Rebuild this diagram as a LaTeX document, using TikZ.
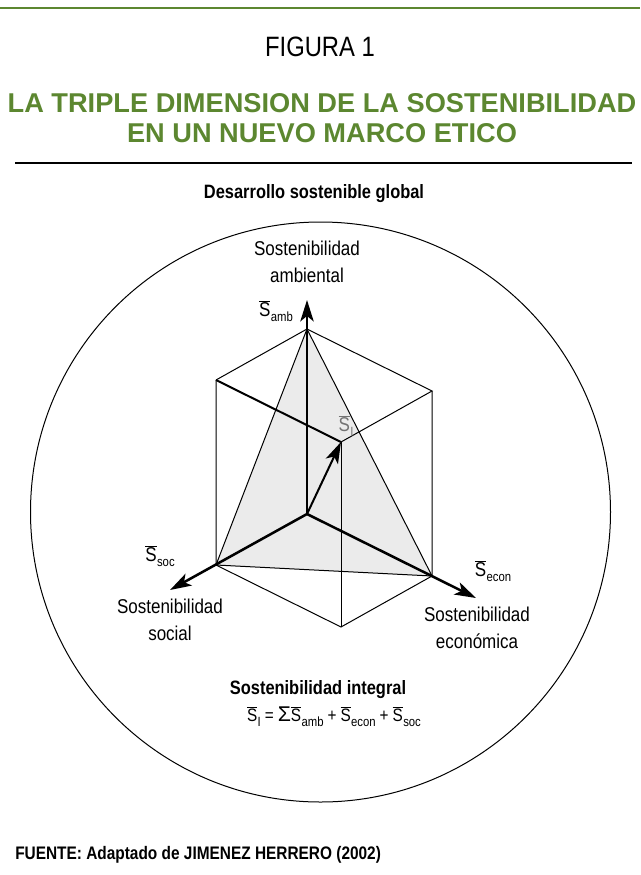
\documentclass[tikz,border=0pt]{standalone}
\usepackage{fontspec}
\setmainfont{Liberation Sans}[FakeStretch=0.85]
\newfontfamily\widefont{Liberation Sans}
\usetikzlibrary{arrows.meta, positioning}
\definecolor{titlegreen}{RGB}{92,135,48}
\tikzset{
	axis/.style={
		line width=1.9pt,
		-{Stealth[length=16pt, width=10pt, inset=4pt]}
	},
	edge/.style={line width=0.75pt},
	heavyedge/.style={line width=1.5pt},
	tag/.style={
		align=center,
		inner sep=0pt,
		font=\fontsize{15}{20}\selectfont
	},
	boldtag/.style={
		inner sep=0pt,
		font=\bfseries\fontsize{14.5}{18}\selectfont
	},
	vectag/.style={
		inner sep=0pt,
		font=\fontsize{15}{18}\selectfont
	}
}
\newcommand{\vecS}[1]{$\overline{\mbox{S}}$\kern0.3pt\raisebox{-0.5ex}{\fontsize{10}{10}\selectfont #1}}

\begin{document}
\begin{tikzpicture}[x=0.75pt, y=-0.75pt]
	\useasboundingbox (0,0) rectangle (640,875);
	
	% header
	\coordinate (gl) at (0,8);
	\coordinate (gr) at (640,8);
	\draw [titlegreen, line width=1.5pt] (gl) -- (gr);
	\node (figura) [inner sep=0pt, font=\fontsize{21}{24}\selectfont] at (320,47) {FIGURA 1};
	\node (titulo) [inner sep=0pt, align=center, text=titlegreen, font=\widefont\bfseries\fontsize{20.4}{22.5}\selectfont] at (322,118) {LA TRIPLE DIMENSION DE LA SOSTENIBILIDAD\\EN UN NUEVO MARCO ETICO};
	\coordinate (rl) at (15,163);
	\coordinate (rr) at (632,163);
	\draw [line width=1.1pt] (rl) -- (rr);
	\node (global) [boldtag] at (314,194) {Desarrollo sostenible global};
	
	% outer circle
	\coordinate (c) at (320.5,512);
	\draw [edge] (c) circle [radius=217.5pt];
	
	% cube corners
	\coordinate (O) at (307,514);
	\coordinate (amb) at (307,329);
	\coordinate (soc) at (216,565);
	\coordinate (econ) at (432,576);
	\coordinate (tl) at (216,380);
	\coordinate (tr) at (432,391);
	\coordinate (si) at (341,442);
	\coordinate (bot) at (341,627);
	\coordinate (ambtip) at (307,300);
	\coordinate (soctip) at (170,590);
	\coordinate (econtip) at (476,598);
	
	% triangle
	\fill [black!8] (amb) -- (soc) -- (econ) -- cycle;
	\draw [edge] (amb) -- (soc) -- (econ) -- cycle;
	
	% cube edges
	\draw [edge] (tl) -- (amb) -- (tr) -- (si);
	\draw [edge] (tl) -- (soc) -- (bot) -- (econ) -- (tr);
	\draw [edge] (si) -- (bot);
	\draw [heavyedge] (tl) -- (si);
	
	% axes
	\draw [axis] (O) -- (ambtip);
	\draw [axis] (O) -- (soctip);
	\draw [axis] (O) -- (econtip);
	\draw [axis, line width=1.5pt] (O) -- (si);
	
	% labels
	\node (lamb) [tag] at (307,262) {Sostenibilidad\\ambiental};
	\node (lsoc) [tag] at (170,620) {Sostenibilidad\\social};
	\node (lecon) [tag] at (477,628) {Sostenibilidad\\económica};
	\node (vamb) [vectag] at (276,311) {\vecS{amb}};
	\node (vsoc) [vectag] at (160,556) {\vecS{soc}};
	\node (vecon) [vectag] at (493,571) {\vecS{econ}};
	\node (vsi) [vectag, text=black!55] at (346,426) {\vecS{I}};
	
	% bottom
	\node (integral) [boldtag] at (318,690) {Sostenibilidad integral};
	\node (formula) [vectag, font=\fontsize{13.5}{18}\selectfont, below=5pt of integral, xshift=12pt] {\vecS{I}\kern3pt=\kern3pt{\widefont\fontsize{16}{18}\selectfont Σ}\vecS{amb}\kern3pt+\kern3pt\vecS{econ}\kern3pt+\kern3pt\vecS{soc}};
	\node (fuente) [anchor=west, inner sep=0pt, font=\bfseries\fontsize{13.6}{15}\selectfont] at (15,855) {FUENTE: Adaptado de JIMENEZ HERRERO (2002)};
\end{tikzpicture}
\end{document}
